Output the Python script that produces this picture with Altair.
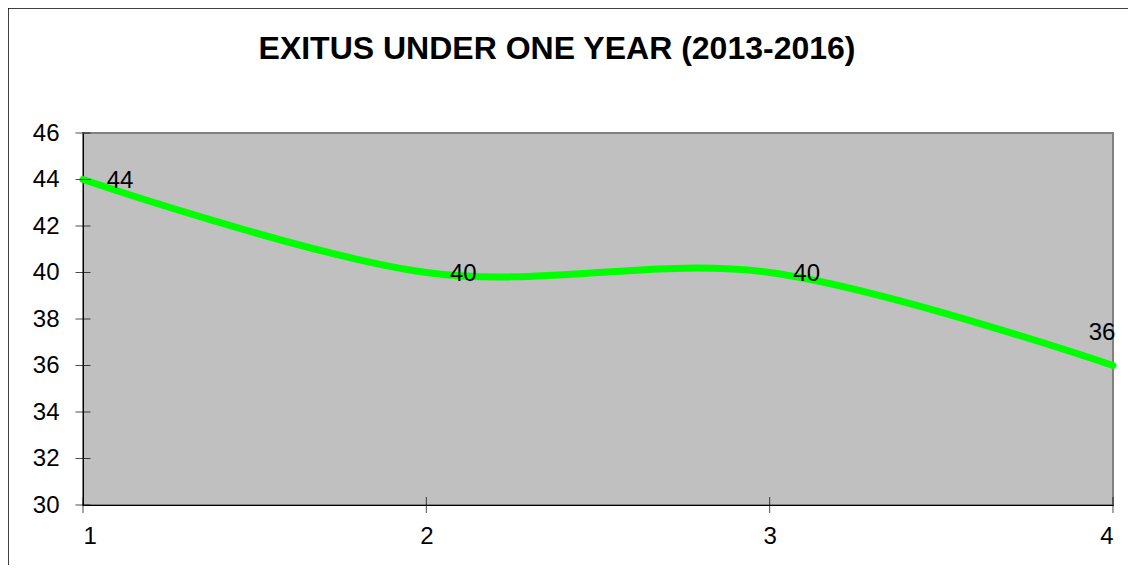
import altair as alt
import pandas as pd

# data
periods = [1, 2, 3, 4]
exitus = [44, 40, 40, 36]
y_ticks = [30, 32, 34, 36, 38, 40, 42, 44, 46]
x_ticks = [1, 2, 3, 4]

df = pd.DataFrame({"period": periods, "value": exitus})
yt = pd.DataFrame({"v": y_ticks})
xt = pd.DataFrame({"v": x_ticks})

W, H = 1030, 372
FONT = "Liberation Sans"

xscale = alt.Scale(domain=[1, 4], nice=False, zero=False)
yscale = alt.Scale(domain=[30, 46], nice=False, zero=False)

xaxis = alt.Axis(values=x_ticks, ticks=False, grid=False, domainColor="black",
                 domainWidth=1, labelFontSize=24, labelFont=FONT, labelColor="black",
                 labelPadding=19, title=None, format="d")
yaxis = alt.Axis(values=y_ticks, ticks=False, grid=False, domainColor="black",
                 domainWidth=1, labelFontSize=24, labelFont=FONT, labelColor="black",
                 labelPadding=24, title=None, format="d")

base = alt.Chart(df)

line = base.mark_line(color="#00FF00", strokeWidth=7, interpolate="cardinal",
                      strokeCap="round", strokeJoin="round").encode(
    x=alt.X("period:Q", scale=xscale, axis=xaxis),
    y=alt.Y("value:Q", scale=yscale, axis=yaxis),
)

labels_a = base.transform_filter("datum.period < 4").mark_text(
    font=FONT, fontSize=24, color="black", dx=37, dy=1, baseline="middle", align="center"
).encode(x=alt.X("period:Q", scale=xscale), y=alt.Y("value:Q", scale=yscale),
         text=alt.Text("value:Q", format="d"))

labels_b = base.transform_filter("datum.period == 4").mark_text(
    font=FONT, fontSize=24, color="black", dx=-11, dy=-33, baseline="middle", align="center"
).encode(x=alt.X("period:Q", scale=xscale), y=alt.Y("value:Q", scale=yscale),
         text=alt.Text("value:Q", format="d"))

ytick_marks = alt.Chart(yt).mark_tick(orient="horizontal", color="black", thickness=1,
                                      size=15).encode(
    y=alt.Y("v:Q", scale=yscale), x=alt.value(0))
xtick_marks = alt.Chart(xt).mark_tick(orient="vertical", color="black", thickness=1,
                                      size=16).encode(
    x=alt.X("v:Q", scale=xscale), y=alt.value(H))

frame = alt.Chart(alt.Data(values=[{}]))
frame_left = frame.mark_rule(color="black", strokeWidth=1.5).encode(
    x=alt.value(-75), y=alt.value(-125), y2=alt.value(H + 60))
frame_top = frame.mark_rule(color="black", strokeWidth=1.5).encode(
    x=alt.value(-75), x2=alt.value(W + 15), y=alt.value(-125))

chart = alt.layer(frame_left, frame_top, line, ytick_marks, xtick_marks,
                  labels_a, labels_b).properties(
    width=W, height=H,
    background="white",
    title=alt.TitleParams("EXITUS UNDER ONE YEAR (2013-2016)", font=FONT, fontSize=32,
                          fontWeight="bold", color="black", anchor="middle",
                          dx=-41, offset=-84, baseline="alphabetic"),
    autosize=alt.AutoSizeParams(type="none"),
    padding={"left": 75, "top": 125, "right": 15, "bottom": 60},
).configure_view(
    fill="#C0C0C0", stroke="#808080", strokeWidth=2
)

chart.save("out.html", embed_options={"renderer": "svg", "actions": False})
